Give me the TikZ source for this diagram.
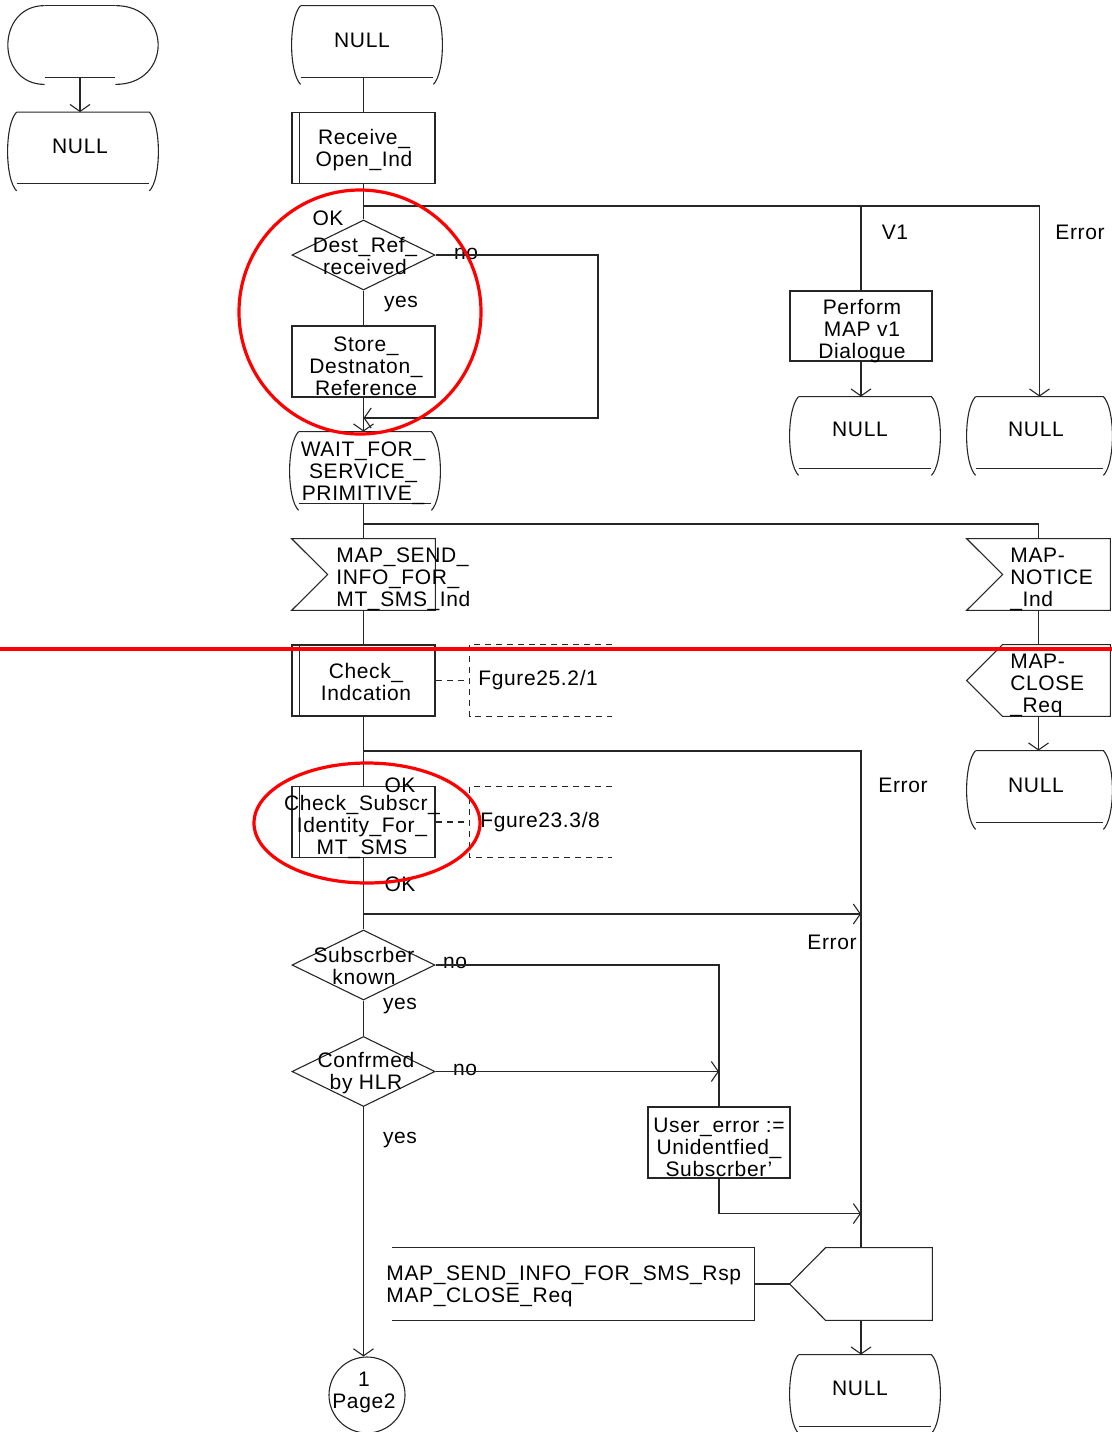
\documentclass[tikz,border=0pt]{standalone}
\usepackage{fontspec}
\setmainfont[LetterSpace=3]{Liberation Sans}
\usetikzlibrary{arrows.meta,calc,shapes.geometric}
\tikzset{
  ln/.style={line width=0.55pt, draw=black!85},
  arr/.style={ln, -{Straight Barb[length=3.5pt,width=10pt,line width=0.55pt]}},
  txt/.style={inner sep=0pt, align=center, font=\fontsize{10.5}{11}\selectfont, text=black},
  ltxt/.style={txt, align=left, anchor=west},
  sbox/.style={rectangle, ln, draw, minimum width=71.5pt, minimum height=35.5pt, inner sep=0pt},
  ghost/.style={rectangle, draw=none, inner sep=0pt, minimum width=#1},
  stnode/.style={rectangle, draw=none, inner sep=0pt, minimum width=#1, minimum height=35.5pt},
  dia/.style={diamond, ln, draw, minimum width=71.5pt, minimum height=35pt, inner sep=0pt},
  dsh/.style={ln, dash pattern=on 3pt off 2.5pt},
  anno/.style={draw=red, line width=1.6pt},
}
\newcommand\stshape[1]{%
  \draw[ln] ($(#1.north west)+(9,0)$) -- ($(#1.north east)+(-9,0)$)
     .. controls ($(#1.north east)+(3,12)$) and ($(#1.south east)+(3,-5)$) .. ($(#1.south east)+(-9,7)$);
  \draw[ln] ($(#1.north west)+(9,0)$) .. controls ($(#1.north west)+(-3,12)$) and ($(#1.south west)+(-3,-5)$) .. ($(#1.south west)+(9,7)$);
  \draw[ln] ($(#1.south west)+(9,0)$) -- ($(#1.south east)+(-9,0)$);}
\newcommand\procline[1]{\draw[ln] ($(#1.north west)+(8,0)$) -- ($(#1.south west)+(8,0)$);}
\newcommand\inshape[1]{\draw[ln] (#1.north west) -- (#1.north east) -- (#1.south east) -- (#1.south west) -- ($(#1.west)+(36,0)$) -- cycle;}
\newcommand\outshape[1]{\draw[ln] ($(#1.north west)+(36,0)$) -- (#1.north east) -- (#1.south east) -- ($(#1.south west)+(36,0)$) -- (#1.west) -- cycle;}
\newcommand\figbox[1]{\draw[dsh] (#1.north east) -- (#1.north west) -- (#1.south west) -- (#1.south east);}
\begin{document}
\begin{tikzpicture}[x=0.5pt,y=-0.5pt]
\useasboundingbox (0,0) rectangle (1112,1432);

% ---- start symbol and NULL at left
\node[stnode=75pt] (start) at (83,41.5) {};
\draw[ln] ($(start.north west)+(37,0)$) -- ($(start.north east)+(-43,0)$);
\draw[ln] ($(start.north west)+(37,0)$) .. controls ($(start.north west)+(-12,0)$) and ($(start.south west)+(-12,7)$) .. ($(start.south west)+(37,7)$);
\draw[ln] ($(start.north east)+(-43,0)$) .. controls ($(start.north east)+(14,0)$) and ($(start.south east)+(14,7)$) .. ($(start.south east)+(-43,7)$);
\draw[ln] ($(start.south west)+(37,0)$) -- ($(start.south east)+(-43,0)$);
\node[stnode=75pt] (null0) at (83,148) {};
\stshape{null0}
\node[txt] (null0t) at (80,146) {NULL};
\draw[arr] ($(start.south)+(-3,0)$) -- ($(null0.north)+(-3,0)$);

% ---- main column
\node[stnode=75pt] (null1) at (367,41.5) {};
\stshape{null1}
\node[txt] (null1t) at (362,40) {NULL};

\node[sbox] (rcv) at (363.5,148) {};
\procline{rcv}
\node[txt] (rcvt) at (364,150) {Receive\_\\Open\_Ind};
\draw[ln] (null1.south -| rcv.north) -- (rcv.north);

\coordinate (j1) at (363.5,206);
\node[dia] (d1) at (363.5,255) {};
\node[txt] (d1t) at (365,256) {Dest\_Ref\_\\received};
\draw[ln] (rcv.south) -- (d1.north);

\node[txt] (ok1) at (328,218) {OK};
\node[txt] (no1) at (466,254) {no};
\node[txt] (yes1) at (401,304) {yes};
\node[txt] (v1) at (895,232) {V1};
\node[txt] (err1) at (1080,232) {Error};

\node[sbox] (store) at (363.5,361.5) {};
\node[txt] (storet) at (366,366) {Store\_\\Destnaton\_\\Reference};
\draw[ln] (d1.south) -- (store.north);

\node[stnode=75pt] (wait) at (365,467.5) {};
\stshape{wait}
\node[txt] (waitt) at (363,473) {WAIT\_FOR\_\\SERVICE\_\\PRIMITIVE\_};

\coordinate (lp) at (598,418);
\draw[arr] (d1.east) -| (lp) -- (lp -| store.south);
\draw[arr] (store.south) -- (store.south |- wait.north);

% ---- V1 and Error branches at top
\node[sbox, minimum width=71pt, minimum height=35pt] (perf) at (861,326) {};
\node[txt] (perft) at (862,331) {Perform\\MAP v1\\Dialogue};
\node[stnode=75pt] (nullV1) at (865,432.5) {};
\stshape{nullV1}
\node[txt] (nullV1t) at (860,429) {NULL};
\draw[arr] (perf.south) -- (perf.south |- nullV1.north);
\node[stnode=72.5pt] (nullE1) at (1039.5,432.5) {};
\stshape{nullE1}
\node[txt] (nullE1t) at (1036,429) {NULL};
\draw[ln] (j1) -| (perf.north);
\draw[arr] (j1 -| perf.north) -| (nullE1.north);

% ---- inputs
\node[ghost=71.5pt, minimum height=35.5pt] (inp1) at (363.5,574.5) {};
\inshape{inp1}
\node[ltxt] (inp1t) at (336,579) {MAP\_SEND\_\\INFO\_FOR\_\\MT\_SMS\_Ind};
\coordinate (j2) at (363.5,524);
\draw[ln] (wait.south -| inp1.north) -- (inp1.north);

\node[ghost=71.5pt, minimum height=35.5pt] (inpN) at (1038.5,574.5) {};
\inshape{inpN}
\node[ltxt] (inpNt) at (1010,579) {MAP-\\NOTICE\\\_Ind};
\draw[ln] (j2) -| (inpN.north);

\node[ghost=71.5pt, minimum height=35.5pt] (outC) at (1038.5,680.5) {};
\outshape{outC}
\node[ltxt] (outCt) at (1010,685) {MAP-\\CLOSE\\\_Req};
\draw[ln] (inpN.south) -- (outC.north);

\node[stnode=72.5pt] (nullE2) at (1039.5,786.5) {};
\stshape{nullE2}
\node[txt] (nullE2t) at (1036,785) {NULL};
\draw[arr] (outC.south) -- (outC.south |- nullE2.north);

% ---- Check_Indication
\node[sbox] (chk) at (363.5,680.5) {};
\procline{chk}
\node[txt] (chkt) at (366,681.5) {Check\_\\Indcation};
\draw[ln] (inp1.south) -- (chk.north);
\node[ghost=71pt, minimum height=35.5pt] (fig1) at (541,680.5) {};
\figbox{fig1}
\node[ltxt] (fig1t) at (478,680) {Fgure25.2/1};
\draw[dsh] (chk.east) -- (fig1.west);

% ---- Check_Subscr
\coordinate (j3) at (363.5,751);
\node[sbox] (chs) at (363.5,822) {};
\procline{chs}
\node[txt] (chst) at (362,827) {Check\_Subscr\_\\Identity\_For\_\\MT\_SMS};
\draw[ln] (chk.south) -- (chs.north);
\node[ghost=71pt, minimum height=35pt] (fig2) at (541,822) {};
\figbox{fig2}
\node[ltxt] (fig2t) at (480,822) {Fgure23.3/8};
\draw[dsh] (chs.east) -- (fig2.west);
\node[txt] (ok2) at (400,785) {OK};
\node[txt] (err2) at (903,785) {Error};

% ---- decisions
\node[dia] (d2) at (363.5,965) {};
\node[txt] (d2t) at (364,966) {Subscrber\\known};
\draw[ln] (chs.south) -- (d2.north);
\coordinate (j4) at (363.5,914);
\node[txt] (ok3) at (400,884) {OK};
\node[txt] (err3) at (832,942) {Error};
\node[txt] (no2) at (455,963) {no};
\node[txt] (yes2) at (400,1006) {yes};

\node[dia] (d3) at (363.5,1071.5) {};
\node[txt] (d3t) at (366,1073) {Confrmed\\by HLR};
\draw[ln] (d2.south) -- (d3.north);
\node[txt] (no3) at (465,1070) {no};
\node[txt] (yes3) at (400,1140) {yes};

\node[sbox, minimum width=71pt] (usr) at (719,1142.5) {};
\node[txt] (usrt) at (719,1147) {User\_error :=\\Unidentfied\_\\Subscrber'};

% ---- output and comment
\node[ghost=71pt, minimum height=36pt] (outS) at (861,1284) {};
\outshape{outS}
\node[ghost=181pt, minimum height=36pt] (cmt) at (573,1284) {};
\draw[ln] (cmt.north west) -- (cmt.north east) -- (cmt.south east) -- (cmt.south west);
\node[ltxt] (cmtt) at (386,1286.5) {MAP\_SEND\_INFO\_FOR\_SMS\_Rsp\\MAP\_CLOSE\_Req};
\draw[ln] (cmt.east) -- (outS.west);

\node[stnode=75pt] (nullF) at (865,1390.5) {};
\stshape{nullF}
\node[txt] (nullFt) at (860,1388) {NULL};
\draw[arr] (outS.south) -- (outS.south |- nullF.north);

\node[circle, ln, draw, minimum size=38pt, inner sep=0pt] (page) at (367,1395) {};
\node[txt] (paget) at (364,1392) {1\\Page2};

% ---- connectors of the lower part
\draw[ln] (j3) -| (outS.north);
\draw[arr] (j4) -- (j4 -| outS.north);
\draw[ln] (d2.east) -| (usr.north);
\draw[arr] (d3.east) -- (d3.east -| usr.north);
\path (usr.south) ++(0,35) coordinate (j5);
\draw[arr] (usr.south) -- (j5) -- (j5 -| outS.north);
\draw[arr] (d3.south) -- (d3.south |- page.north);

% ---- red annotations
\draw[anno] (360,312) ellipse [x radius=121, y radius=122];
\draw[anno] (367,823) ellipse [x radius=113, y radius=60];
\draw[anno] (0,649) -- (1112,649);
\end{tikzpicture}
\end{document}
